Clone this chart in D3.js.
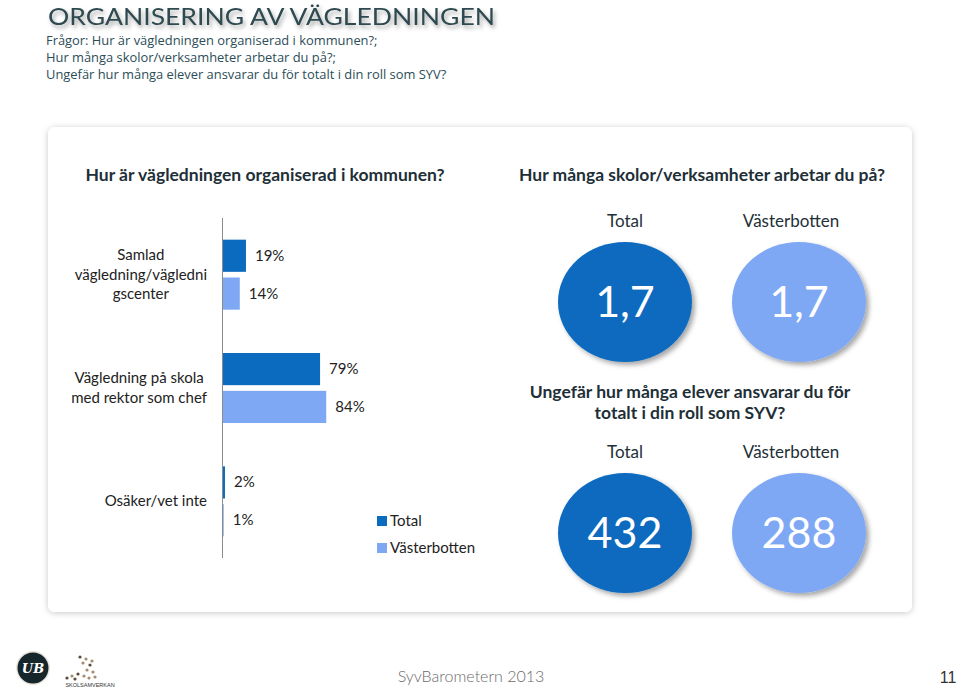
<!DOCTYPE html>
<html>
<head>
<meta charset="utf-8">
<script src="https://cdn.jsdelivr.net/npm/d3@7"></script>
<style>
  html, body { margin: 0; padding: 0; background: #ffffff; }
  svg { display: block; }
</style>
</head>
<body>
<svg id="chart" width="960" height="689"></svg>
<script>
// ---------- data ----------
const pageTitle = "ORGANISERING AV VÄGLEDNINGEN";
const subtitleLines = [
  "Frågor: Hur är vägledningen organiserad i kommunen?;",
  "Hur många skolor/verksamheter arbetar du på?;",
  "Ungefär hur många elever ansvarar du för totalt i din roll som SYV?"
];
const series = ["Total", "Västerbotten"];
const categories = [
  ["Samlad", "vägledning/vägledni", "gscenter"],
  ["Vägledning på skola", "med rektor som chef"],
  ["Osäker/vet inte"]
];
const totalValues = [19, 79, 2];
const vasterbottenValues = [14, 84, 1];
const skolorTitle = "Hur många skolor/verksamheter arbetar du på?";
const skolorValues = ["1,7", "1,7"];
const eleverTitle = ["Ungefär hur många elever ansvarar du för", "totalt i din roll som SYV?"];
const eleverValues = ["432", "288"];
const barTitle = "Hur är vägledningen organiserad i kommunen?";
const footerText = "SyvBarometern 2013";
const pageNumber = "11";

const colors = { "Total": "#0a6bbf", "Västerbotten": "#7fa8f4" };
const FONT = "Lato, 'Open Sans', sans-serif";

const svg = d3.select("#chart");
const defs = svg.append("defs");

// shadows
const f1 = defs.append("filter").attr("id", "cardShadow").attr("x", "-5%").attr("y", "-5%").attr("width", "110%").attr("height", "112%");
f1.append("feDropShadow").attr("dx", 0).attr("dy", 1).attr("stdDeviation", 3).attr("flood-color", "#000").attr("flood-opacity", 0.22);
const f2 = defs.append("filter").attr("id", "circShadow").attr("x", "-20%").attr("y", "-20%").attr("width", "150%").attr("height", "150%");
f2.append("feDropShadow").attr("dx", 3).attr("dy", 3).attr("stdDeviation", 2.5).attr("flood-color", "#000").attr("flood-opacity", 0.35);
const f3 = defs.append("filter").attr("id", "titleShadow").attr("x", "-5%").attr("y", "-30%").attr("width", "110%").attr("height", "170%");
f3.append("feDropShadow").attr("dx", 2).attr("dy", 3).attr("stdDeviation", 2).attr("flood-color", "#000").attr("flood-opacity", 0.35);

// ---------- header ----------
svg.append("text")
  .attr("x", 48).attr("y", 24.5)
  .attr("font-family", FONT)
  .attr("font-size", 23.5).attr("font-weight", 400)
  .attr("fill", "#2f4a4f")
  .attr("filter", "url(#titleShadow)")
  .attr("textLength", 447).attr("lengthAdjust", "spacingAndGlyphs")
  .text(pageTitle);

svg.append("g").selectAll("text").data(subtitleLines).join("text")
  .attr("x", 46).attr("y", (d, i) => 44.5 + i * 17)
  .attr("font-family", "'Open Sans', sans-serif")
  .attr("font-size", 12.9)
  .attr("fill", "#2c4d57")
  .text(d => d);

// ---------- card ----------
svg.append("rect")
  .attr("x", 48).attr("y", 127).attr("width", 864).attr("height", 485)
  .attr("rx", 7).attr("fill", "#fff")
  .attr("filter", "url(#cardShadow)");

// ---------- bar chart ----------
const x = d3.scaleLinear().domain([0, 100]).range([222.5, 222.5 + 123.5]);
const y0 = d3.scaleBand().domain(d3.range(categories.length)).range([218, 558]);
const y1 = d3.scaleBand().domain(series).range([-35, 35]).paddingInner(0.15);

svg.append("text")
  .attr("x", 265).attr("y", 181)
  .attr("text-anchor", "middle")
  .attr("font-family", FONT).attr("font-size", 17.5).attr("font-weight", 700)
  .attr("fill", "#1e2f37")
  .text(barTitle);

const rows = categories.map((c, i) => ({
  idx: i, label: c,
  vals: [{ s: "Total", v: totalValues[i] }, { s: "Västerbotten", v: vasterbottenValues[i] }]
}));

const gRows = svg.append("g").selectAll("g").data(rows).join("g")
  .attr("transform", d => `translate(0,${y0(d.idx) + y0.bandwidth() / 2})`);

gRows.selectAll("rect").data(d => d.vals).join("rect")
  .attr("x", x(0))
  .attr("y", d => y1(d.s))
  .attr("width", d => x(d.v) - x(0))
  .attr("height", y1.bandwidth())
  .attr("fill", d => colors[d.s]);

gRows.selectAll("text.val").data(d => d.vals).join("text")
  .attr("class", "val")
  .attr("x", d => x(d.v) + 9)
  .attr("y", d => y1(d.s) + y1.bandwidth() / 2 + 5)
  .attr("font-family", FONT).attr("font-size", 15)
  .attr("fill", "#222")
  .text(d => d.v + "%");

// category labels: block right-aligned, lines centered within block
const labelRight = 207;
gRows.each(function (d) {
  const g = d3.select(this);
  const n = d.label.length;
  const lh = 19.5;
  const texts = g.selectAll("text.cat").data(d.label).join("text")
    .attr("class", "cat")
    .attr("font-family", FONT).attr("font-size", 15)
    .attr("fill", "#222")
    .attr("text-anchor", "middle")
    .attr("y", (t, i) => (i - (n - 1) / 2) * lh + 5)
    .text(t => t);
  let maxW = 0;
  texts.each(function () { maxW = Math.max(maxW, this.getComputedTextLength()); });
  texts.attr("x", labelRight - maxW / 2);
});

// axis line
svg.append("line")
  .attr("x1", x(0)).attr("x2", x(0))
  .attr("y1", y0.range()[0]).attr("y2", y0.range()[1])
  .attr("stroke", "#8c8c8c").attr("stroke-width", 1);

// legend
const leg = svg.append("g").selectAll("g").data(series).join("g")
  .attr("transform", (d, i) => `translate(377,${521 + i * 27})`);
leg.append("rect").attr("x", 0).attr("y", -5).attr("width", 10).attr("height", 10)
  .attr("fill", d => colors[d]);
leg.append("text").attr("x", 13).attr("y", 5)
  .attr("font-family", FONT).attr("font-size", 15).attr("fill", "#222")
  .text(d => d);

// ---------- circle panels ----------
const cx = d3.scalePoint().domain(series).range([625, 799]);

function circlePanel(titleLines, titleY, headY, cy, values) {
  svg.append("g").selectAll("text").data(titleLines).join("text")
    .attr("x", titleLines.length > 1 ? 690 : 702)
    .attr("y", (d, i) => titleY + i * 21)
    .attr("text-anchor", "middle")
    .attr("font-family", FONT).attr("font-size", 17.5).attr("font-weight", 700)
    .attr("fill", "#1e2f37")
    .text(d => d);
  const items = series.map((s, i) => ({ s, v: values[i] }));
  svg.append("g").selectAll("text").data(items).join("text")
    .attr("x", d => cx(d.s) - (d.s === "Total" ? 0 : 8))
    .attr("y", headY)
    .attr("text-anchor", "middle")
    .attr("font-family", FONT).attr("font-size", 17)
    .attr("fill", "#1e2f37")
    .text(d => d.s);
  const g = svg.append("g").selectAll("g").data(items).join("g")
    .attr("transform", d => `translate(${cx(d.s)},${cy})`);
  g.append("ellipse").attr("rx", 67).attr("ry", 60)
    .attr("fill", d => colors[d.s])
    .attr("filter", "url(#circShadow)");
  g.append("text")
    .attr("y", 15)
    .attr("text-anchor", "middle")
    .attr("font-family", FONT).attr("font-size", 43)
    .attr("fill", "#fff")
    .text(d => d.v);
}
circlePanel([skolorTitle], 181, 227, 302, skolorValues);
circlePanel(eleverTitle, 398, 458, 533, eleverValues);

// ---------- footer ----------
svg.append("text")
  .attr("x", 471).attr("y", 682)
  .attr("text-anchor", "middle")
  .attr("font-family", FONT).attr("font-size", 16).attr("font-weight", 300)
  .attr("fill", "#6b6b6b")
  .text(footerText);
svg.append("text")
  .attr("x", 948).attr("y", 683)
  .attr("text-anchor", "middle")
  .attr("font-family", "'Liberation Sans', Arial, sans-serif").attr("font-size", 16)
  .attr("fill", "#333")
  .text(pageNumber);

// logos
const logo = svg.append("g").attr("transform", "translate(33,668)");
logo.append("circle").attr("r", 17).attr("fill", "#e8e6de");
logo.append("circle").attr("r", 15.5).attr("fill", "#16262a");
logo.append("text").attr("y", 5).attr("text-anchor", "middle")
  .attr("font-family", "'DejaVu Serif', serif").attr("font-style", "italic").attr("font-weight", 700)
  .attr("font-size", 13).attr("fill", "#fff").text("UB");
const sk = svg.append("g");
const dots = [[80,657],[86,659],[83,663],[90,665],[87,670],[93,672],[78,674],[84,676],[72,676],[67,678],[89,678],[95,677],[75,679],[92,661]];
sk.selectAll("circle").data(dots).join("circle")
  .attr("cx", d => d[0]).attr("cy", d => d[1]).attr("r", 1.6)
  .attr("fill", (d, i) => i % 3 === 0 ? "#5c4a3a" : "#a58c70");
sk.append("text").attr("x", 90).attr("y", 687).attr("text-anchor", "middle")
  .attr("font-family", "'Liberation Sans', sans-serif").attr("font-size", 5.5)
  .attr("fill", "#333").text("SKOLSAMVERKAN");
</script>
</body>
</html>
